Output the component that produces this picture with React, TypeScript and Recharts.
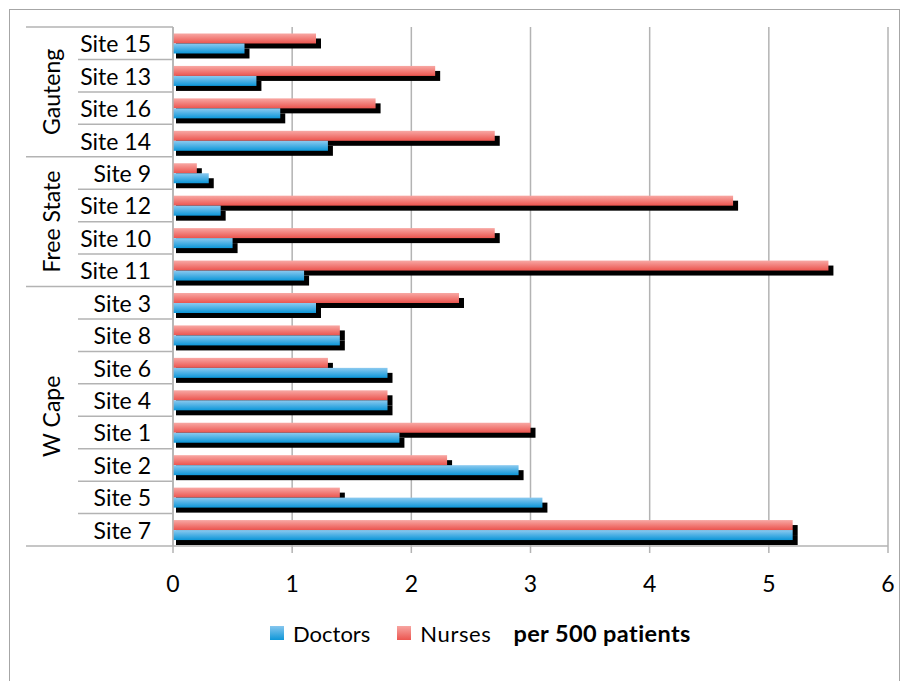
import React from 'react';
import { BarChart, Bar, XAxis, YAxis, CartesianGrid } from 'recharts';

const sites = ['Site 15', 'Site 13', 'Site 16', 'Site 14', 'Site 9', 'Site 12', 'Site 10', 'Site 11', 'Site 3', 'Site 8', 'Site 6', 'Site 4', 'Site 1', 'Site 2', 'Site 5', 'Site 7'];
const groups = ['Gauteng', 'Gauteng', 'Gauteng', 'Gauteng', 'Free State', 'Free State', 'Free State', 'Free State', 'W Cape', 'W Cape', 'W Cape', 'W Cape', 'W Cape', 'W Cape', 'W Cape', 'W Cape'];
const doctors = [0.6, 0.7, 0.9, 1.3, 0.3, 0.4, 0.5, 1.1, 1.2, 1.4, 1.8, 1.8, 1.9, 2.9, 3.1, 5.2];
const nurses = [1.2, 2.2, 1.7, 2.7, 0.2, 4.7, 2.7, 5.5, 2.4, 1.4, 1.3, 1.8, 3.0, 2.3, 1.4, 5.2];
const xTicks = [0, 1, 2, 3, 4, 5, 6];
const legendNote = 'per 500 patients';

const data = sites.map((s, i) => ({ site: s, group: groups[i], Doctors: doctors[i], Nurses: nurses[i] }));

const W = 903;
const H = 681;
const PLOT_LEFT = 173;
const PLOT_TOP = 27;
const PLOT_BOTTOM = 546;
const BAND = (PLOT_BOTTOM - PLOT_TOP) / sites.length;
const FONT = 'Lato, "Open Sans", sans-serif';
const FS = 23;
const LINE = '#b3b3b3';

const ShadowBar = (props: any) => {
  const { x, y, width, height, fill } = props;
  if (width == null || width <= 0) return <g />;
  return (
    <g>
      <rect x={x + 3} y={y + 5} width={width + 2} height={height} fill="#000" />
      <rect x={x} y={y} width={width} height={height} fill={fill} />
    </g>
  );
};

const SiteTick = (props: any) => {
  const { x, y, payload } = props;
  const idx = payload && payload.index != null ? payload.index : props.index;
  const g = groups[idx];
  const isStart = idx === 0 || groups[idx - 1] !== g;
  const isLast = idx === sites.length - 1;
  const top = y - BAND / 2;
  const bottom = y + BAND / 2;
  let groupLabel = null;
  if (isStart) {
    let count = 0;
    for (let k = idx; k < groups.length && groups[k] === g; k++) count++;
    const cy = y + ((count - 1) * BAND) / 2;
    groupLabel = (
      <text
        x={51}
        y={cy}
        transform={`rotate(-90, 51, ${cy})`}
        textAnchor="middle"
        dominantBaseline="central"
        fontFamily={FONT}
        fontSize={FS}
        fill="#000"
      >
        {g}
      </text>
    );
  }
  return (
    <g>
      <line x1={isStart ? 26 : 78} x2={PLOT_LEFT} y1={top} y2={top} stroke={LINE} strokeWidth={1.5} />
      {isLast && <line x1={26} x2={PLOT_LEFT} y1={bottom} y2={bottom} stroke={LINE} strokeWidth={1.5} />}
      <text x={x} y={y} textAnchor="end" dominantBaseline="central" fontFamily={FONT} fontSize={FS} fill="#000">
        {payload.value}
      </text>
      {groupLabel}
    </g>
  );
};

const LegendBox = () => (
  <div
    style={{
      position: 'absolute',
      left: 270,
      top: 619,
      height: 28,
      display: 'flex',
      alignItems: 'center',
      fontFamily: FONT,
      fontSize: 22,
      color: '#000',
      whiteSpace: 'nowrap',
    }}
  >
    <span style={{ display: 'inline-block', width: 14, height: 14, background: 'linear-gradient(#86c6ee, #0f97d8)', marginRight: 9 }} />
    <span style={{ marginRight: 27 }}>Doctors</span>
    <span style={{ display: 'inline-block', width: 14, height: 14, background: 'linear-gradient(#f7a5a1, #ec5650)', marginRight: 9 }} />
    <span style={{ marginRight: 22, letterSpacing: 0.6 }}>Nurses</span>
    <span style={{ fontWeight: 700, fontSize: 23.5, letterSpacing: 0.4 }}>{legendNote}</span>
  </div>
);

export default function App() {
  return (
    <div style={{ position: 'absolute', left: 0, top: 0, width: W, height: H, background: '#fff', overflow: 'hidden' }}>
      <div style={{ position: 'absolute', left: 9, top: 9, width: 891, height: 700, border: '1.5px solid #a6a6a6', boxSizing: 'border-box' }} />
      <div style={{ position: 'absolute', left: 0, top: 0 }}>
        <BarChart
          width={W}
          height={H}
          data={data}
          layout="vertical"
          margin={{ top: PLOT_TOP, right: W - 888, left: 8, bottom: 75 }}
          barCategoryGap="20%"
          barGap={0}
        >
          <defs>
            <linearGradient id="gBlue" x1="0" y1="0" x2="0" y2="1">
              <stop offset="0%" stopColor="#8ccaf0" />
              <stop offset="100%" stopColor="#0c96d8" />
            </linearGradient>
            <linearGradient id="gRed" x1="0" y1="0" x2="0" y2="1">
              <stop offset="0%" stopColor="#f8a8a4" />
              <stop offset="100%" stopColor="#eb544e" />
            </linearGradient>
          </defs>
          <CartesianGrid horizontal={false} vertical={true} stroke={LINE} strokeWidth={1.5} />
          <XAxis
            type="number"
            domain={[0, 6]}
            ticks={xTicks}
            interval={0}
            height={60}
            axisLine={{ stroke: LINE, strokeWidth: 1.5 }}
            tickLine={{ stroke: LINE, strokeWidth: 1.5 }}
            tickSize={7}
            tickMargin={23}
            tick={{ fontFamily: FONT, fontSize: FS, fill: '#000' }}
          />
          <YAxis
            type="category"
            dataKey="site"
            width={165}
            interval={0}
            axisLine={{ stroke: LINE, strokeWidth: 1.5 }}
            tickLine={false}
            tickSize={0}
            tickMargin={22}
            tick={<SiteTick />}
          />
          <Bar dataKey="Nurses" fill="url(#gRed)" shape={ShadowBar} isAnimationActive={false} />
          <Bar dataKey="Doctors" fill="url(#gBlue)" shape={ShadowBar} isAnimationActive={false} />
        </BarChart>
      </div>
      <LegendBox />
    </div>
  );
}
